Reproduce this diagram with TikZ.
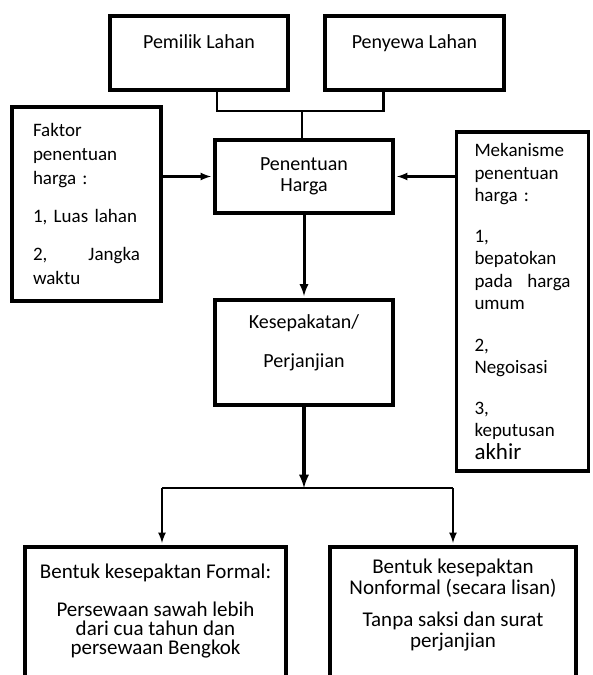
\documentclass[tikz,border=0pt]{standalone}
\usepackage{fontspec}
\setmainfont{Carlito}
\usepackage{tikz}
\usetikzlibrary{calc}
\usetikzlibrary{shapes,arrows,positioning}

\begin{document}
\begin{tikzpicture}[x=1pt,y=-1pt,
	kotak/.style={draw,line width=4pt,align=center,font=\fontsize{20}{22}\selectfont},
	garis/.style={line width=2.5pt},
	panah/.style={-latex,line width=2.5pt,shorten >=2pt}]
	\useasboundingbox (0,0) rectangle (592,675);
	\clip (0,0) rectangle (592,675);
	\node[kotak,minimum width=178pt,minimum height=74pt] (pemilik) at (199,53) {Pemilik Lahan\\ \mbox{}};
	\node[kotak,minimum width=179pt,minimum height=74pt] (penyewa) at (414.5,53) {Penyewa Lahan\\ \mbox{}};
	\node[kotak,minimum width=178pt,minimum height=73pt,font=\fontsize{20}{21}\selectfont] (penentuan) at (304,176.5) {Penentuan\\Harga};
	\node[kotak,minimum width=178pt,minimum height=105pt] (kesepakatan) at (304,352.5) {Kesepakatan/\\[17pt]Perjanjian\\ \mbox{}};
	\node[kotak,text width=107pt,align=left,minimum width=149pt,minimum height=194pt,font=\fontsize{19}{24}\selectfont] (faktor) at (86.5,204) {Faktor\\penentuan\\harga :\\[14pt]1, Luas lahan\\[14pt]2,\hfill Jangka\\waktu};
	\node[kotak,line width=3.5pt,text width=96pt,align=left,minimum width=132pt,minimum height=339pt,font=\fontsize{19}{22.5}\selectfont] (mekanisme) at (522.5,301.5) {Mekanisme\\penentuan\\harga :\\[18pt]1,\\bepatokan\\pada\hfill harga\\umum\\[19pt]2,\\Negoisasi\\[18pt]3,\\keputusan\\{\fontsize{23}{23}\selectfont akhir}};
	\node[kotak,anchor=north,minimum width=261pt,inner ysep=17pt,text depth=150pt,font=\fontsize{21}{19}\selectfont] (formal) at (155.5,545) {Bentuk kesepaktan Formal:\\[19pt]Persewaan sawah lebih\\dari cua tahun dan\\persewaan Bengkok};
	\node[kotak,anchor=north,minimum width=246pt,inner ysep=12pt,text depth=150pt,font=\fontsize{21}{21}\selectfont] (nonformal) at (453,545) {Bentuk kesepaktan\\Nonformal (secara lisan)\\[11pt]Tanpa saksi dan surat\\perjanjian};
	\coordinate (gabung) at (302,111);
	\coordinate (cabang) at (304,488);
	\coordinate (cabangkiri) at (162,488);
	\coordinate (cabangkanan) at (453,488);
	\draw[garis] ([xshift=18pt]pemilik.south) |- (gabung) -| ([xshift=-31pt]penyewa.south);
	\draw[garis] (gabung) -- (gabung |- penentuan.north);
	\draw[panah] (faktor.east |- penentuan.west) -- (penentuan.west);
	\draw[panah] (mekanisme.west |- penentuan.east) -- (penentuan.east);
	\draw[panah,line width=3pt] (penentuan.south) -- (kesepakatan.north);
	\draw[panah,line width=3.5pt,shorten >=0pt] (kesepakatan.south) -- (cabang);
	\draw[garis] (cabangkiri) -- (cabangkanan);
	\draw[panah] (cabangkiri) -- (cabangkiri |- formal.north);
	\draw[panah] (cabangkanan) -- (nonformal.north);
\end{tikzpicture}
\end{document}
